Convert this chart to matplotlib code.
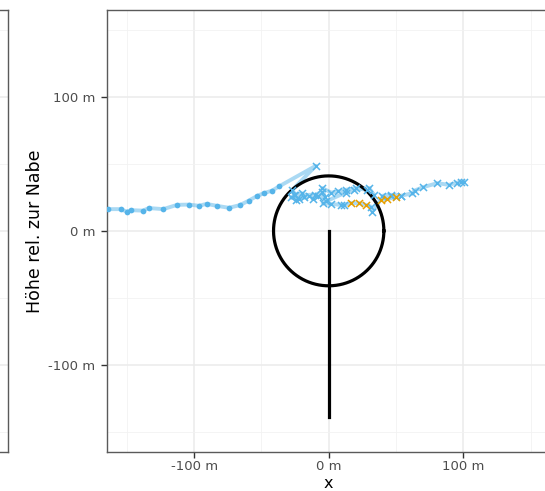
import numpy as np
import matplotlib
matplotlib.use("Agg")
import matplotlib.pyplot as plt

# ---- data (metres, relative to hub) ----
dots_x = [-170, -164.2, -154.7, -150.2, -146.8, -138.1, -133.7, -123.0, -112.6, -103.9,
          -96.5, -90.8, -83.3, -74.2, -66.0, -59.3, -53.1, -48.2, -41.9, -37.0]
dots_y = [16.3, 16.2, 16.2, 14.4, 15.4, 15.1, 17.0, 16.2, 19.4, 19.6,
          18.7, 20.1, 18.7, 17.2, 19.2, 22.6, 26.1, 28.1, 30.1, 33.1]

cross_x = [-9.6, -27.0, -25.0, -22.0, -28.0, -20.0, -15.0, -24.0, -18.0, -26.0, -10.0, -5.0,
           -12.0, -8.0, -3.0, -4.8, 2.0, 7.0, 12.6, 20.0, 28.2, 33.6, 30.0, 18.7, 12.6,
           -2.0, -4.5, 2.0, 8.8, 11.3, 16.3, 22.5, 27.4, 31.2, 32.4, 38.6, 43.6, 49.7,
           53.5, 46.0, 39.9, 46.0, 53.5, 62.2, 63.9, 70.3, 80.7, 89.4, 95.6, 98.6, 100.5]
cross_y = [48.5, 30.6, 27.0, 24.0, 25.0, 28.0, 26.0, 23.0, 25.0, 26.5, 27.0, 29.0,
           24.0, 26.0, 25.0, 31.9, 28.5, 29.5, 30.6, 31.9, 30.6, 26.9, 31.9, 30.6, 28.6,
           22.0, 20.9, 20.0, 19.4, 19.4, 20.7, 20.7, 19.4, 18.1, 14.4, 23.1, 23.7, 25.1,
           26.1, 26.1, 26.1, 26.9, 26.1, 28.1, 30.1, 32.6, 35.6, 34.3, 36.0, 36.8, 36.8]
cross_col = ["b"] * len(cross_x)
for i in (30, 31, 32, 35, 36, 37):
    cross_col[i] = "o"

rotor_radius = 41
hub_height = 139
xticks = [-100, 0, 100]
yticks = [-100, 0, 100]

BLUE = "#56B4E9"
ORANGE = "#E69F00"

W, H = 545, 491
fig = plt.figure(figsize=(W / 100, H / 100), dpi=100)

left_px, top_px, bottom_px = 106.7, 9.7, 452.0
ax_w_px = 444.0
ax = fig.add_axes([left_px / W, (H - bottom_px) / H, ax_w_px / W, (bottom_px - top_px) / H])

# left (neighbouring) panel, mostly outside the figure
axl = fig.add_axes([(8.0 - 300) / W, (H - bottom_px) / H, 300 / W, (bottom_px - top_px) / H])

for a in (ax, axl):
    a.set_xlim(-165, 165)
    a.set_ylim(-165, 165)
    a.set_xticks(xticks)
    a.set_yticks(yticks)
    a.set_xticks([-150, -50, 50, 150], minor=True)
    a.set_yticks([-150, -50, 50, 150], minor=True)
    a.grid(which="major", color="#EBEBEB", lw=1.1, zorder=0)
    a.grid(which="minor", color="#F2F2F2", lw=0.6, zorder=0)
    a.set_axisbelow(True)
    for s in a.spines.values():
        s.set_color("#5A5A5A")
        s.set_linewidth(1.0)
    a.tick_params(which="minor", length=0)
    a.tick_params(which="major", length=4.5, width=1.0, color="#333333",
                  labelcolor="#4D4D4D", labelsize=9.5, pad=3.5)

ax.tick_params(axis="x", which="major", pad=1.5)

axl.set_xticklabels([])
axl.set_yticklabels([])
axl.tick_params(length=0)

ax.set_xticklabels([f"{t} m" for t in xticks])
ax.set_yticklabels([f"{t} m" for t in yticks])

# turbine
theta = np.linspace(0, 2 * np.pi, 400)
ax.plot(rotor_radius * np.cos(theta), rotor_radius * np.sin(theta), color="black", lw=2.3, zorder=3)
ax.plot([0, 0], [0, -hub_height], color="black", lw=2.3, zorder=3)

# track
px = dots_x + cross_x
py = dots_y + cross_y
ax.plot(px, py, color=BLUE, alpha=0.5, lw=2.8, zorder=2, solid_capstyle="round")
ax.scatter(dots_x, dots_y, s=17, color=BLUE, zorder=4, linewidths=0)
bx = [x for x, c in zip(cross_x, cross_col) if c == "b"]
by = [y for y, c in zip(cross_y, cross_col) if c == "b"]
ox = [x for x, c in zip(cross_x, cross_col) if c == "o"]
oy = [y for y, c in zip(cross_y, cross_col) if c == "o"]
ax.scatter(bx, by, s=26, marker="x", color=BLUE, zorder=4, linewidths=1.1)
ax.scatter(ox, oy, s=26, marker="x", color=ORANGE, zorder=5, linewidths=1.1)

# x-axis title placed under the hub position, kept inside the figure
x0_fig = ax.transData.transform((0, 0))[0] / W
fig.text(x0_fig, 0.5 / H, "x", fontsize=11.5, color="black", ha="center", va="bottom")
ax.set_ylabel("Höhe rel. zur Nabe", fontsize=12.5, color="black", labelpad=3)

fig.savefig("out.png", dpi=100)
